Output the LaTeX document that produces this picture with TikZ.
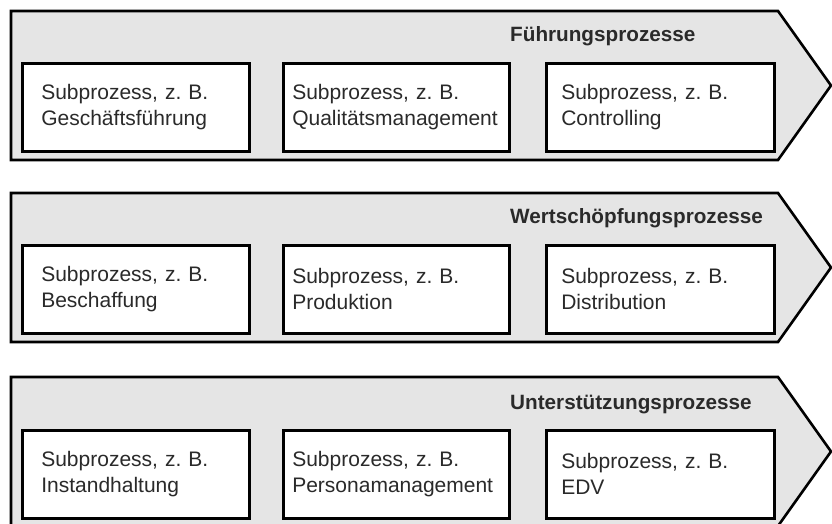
\documentclass[tikz,border=0pt]{standalone}
\usepackage{fontspec}
\setmainfont{Liberation Sans}
\frenchspacing
\definecolor{bandgray}{HTML}{E5E5E5}
\definecolor{txt}{HTML}{2A2A2A}
\begin{document}
\begin{tikzpicture}[x=1pt,y=-1pt,
  band/.style={draw=black,fill=bandgray,line width=2.6pt,line join=miter},
  sub/.style={draw=black,fill=white,line width=2.6pt,anchor=north west,
    minimum width=227pt,minimum height=88pt,align=left,text=txt,
    font=\fontsize{21}{26}\selectfont\frenchspacing,inner ysep=0pt},
  title/.style={anchor=base west,text=txt,font=\fontsize{20.7}{24}\selectfont\bfseries,inner sep=0pt}]
\useasboundingbox (0,0) rectangle (832,524);
% bands
\foreach \t/\n in {11/a,193/b,377/c}{
  \draw[band] (11,\t) -- (778,\t) -- (831,\t+74.5) -- (778,\t+149) -- (11,\t+149) -- cycle;
}
% titles
\node[title] (t1) at (510,42) {Führungsprozesse};
\node[title] (t2) at (510,223) {Wertschöpfungsprozesse};
\node[title] (t3) at (510,409) {Unterstützungsprozesse};
% boxes band 1
\node[sub,inner xsep=19pt,text width=189pt] (a1) at (21,62) {Subprozess, z. B.\\Geschäftsführung};
\node[sub,inner xsep=9pt,text width=208pt,minimum width=226pt] (a2) at (282,62) {Subprozess, z. B.\\Qualitätsmanagement};
\node[sub,inner xsep=15pt,text width=198pt,minimum width=228pt] (a3) at (545,62) {Subprozess, z. B.\\Controlling};
% boxes band 2
\node[sub,inner xsep=19pt,text width=189pt] (b1) at (21,244) {Subprozess, z. B.\\Beschaffung};
\node[sub,inner xsep=9pt,text width=208pt,minimum width=226pt] (b2) at (282,244) {Subprozess, z. B.\\Produktion};
\node[sub,inner xsep=15pt,text width=198pt,minimum width=228pt] (b3) at (545,244) {Subprozess, z. B.\\Distribution};
% boxes band 3
\node[sub,inner xsep=19pt,text width=189pt] (c1) at (21,429) {Subprozess, z. B.\\Instandhaltung};
\node[sub,inner xsep=9pt,text width=208pt,minimum width=226pt] (c2) at (282,429) {Subprozess, z. B.\\Personamanagement};
\node[sub,inner xsep=15pt,text width=198pt,minimum width=228pt] (c3) at (545,429) {Subprozess, z. B.\\EDV};
\end{tikzpicture}
\end{document}
